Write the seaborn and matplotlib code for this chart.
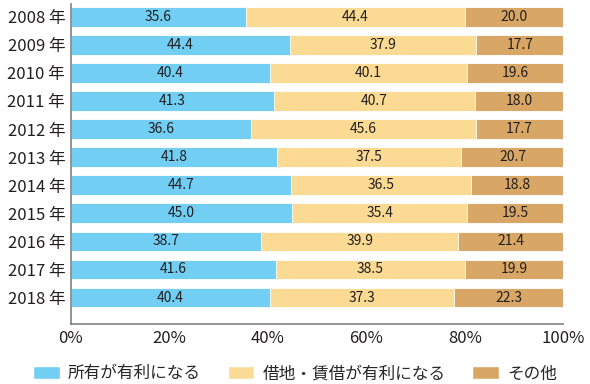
import numpy as np
import pandas as pd
import matplotlib.pyplot as plt
import seaborn as sns
from matplotlib.patches import Patch

years = ['2008 年', '2009 年', '2010 年', '2011 年', '2012 年', '2013 年',
         '2014 年', '2015 年', '2016 年', '2017 年', '2018 年']
own = [35.6, 44.4, 40.4, 41.3, 36.6, 41.8, 44.7, 45.0, 38.7, 41.6, 40.4]
rent = [44.4, 37.9, 40.1, 40.7, 45.6, 37.5, 36.5, 35.4, 39.9, 38.5, 37.3]
other = [20.0, 17.7, 19.6, 18.0, 17.7, 20.7, 18.8, 19.5, 21.4, 19.9, 22.3]
series = ['所有が有利になる', '借地・賃借が有利になる', 'その他']
colors = ['#72cef3', '#fbdb93', '#d8a766']

sns.set_theme(style='white')
plt.rcParams['font.family'] = ['Noto Sans CJK JP', 'DejaVu Sans']

df = pd.DataFrame({'year': years, 'own': own, 'rent': rent, 'other': other})
df['c1'] = df['own']
df['c2'] = df['own'] + df['rent']
df['c3'] = df['c2'] + df['other']

fig, ax = plt.subplots(figsize=(5.9, 3.84), dpi=100)
for col, c in zip(['c3', 'c2', 'c1'], colors[::-1]):
    sns.barplot(data=df, x=col, y='year', color=c, orient='h', width=0.7,
                saturation=1, edgecolor='white', linewidth=0.6, ax=ax)

for i in range(len(years)):
    starts = [0, own[i], own[i] + rent[i]]
    for s, v in zip(starts, [own[i], rent[i], other[i]]):
        ax.text(s + v / 2, i, f'{v:.1f}', ha='center', va='center',
                fontsize=10, color='#231f20')

ax.set_xlim(0, 100)
ax.set_ylim(10.96, -0.46)
ax.set_xticks([0, 20, 40, 60, 80, 100])
ax.set_xticklabels(['0%', '20%', '40%', '60%', '80%', '100%'])
ax.set_xlabel('')
ax.set_ylabel('')
ax.tick_params(axis='both', labelsize=12, colors='#231f20', length=0, pad=4)
for s in ['top', 'right']:
    ax.spines[s].set_visible(False)
for s in ['left', 'bottom']:
    ax.spines[s].set_color('#808080')
    ax.spines[s].set_linewidth(1.2)

handles = [Patch(facecolor=c, label=l) for c, l in zip(colors, series)]
fig.legend(handles=handles, loc='lower center', ncol=3, frameon=False,
           fontsize=12, bbox_to_anchor=(0.5, -0.035), handlelength=1.6,
           handleheight=0.8, handletextpad=0.5, columnspacing=1.6)

fig.subplots_adjust(left=0.12, right=0.955, top=0.99, bottom=0.155)
fig.savefig('out.png', dpi=100)
